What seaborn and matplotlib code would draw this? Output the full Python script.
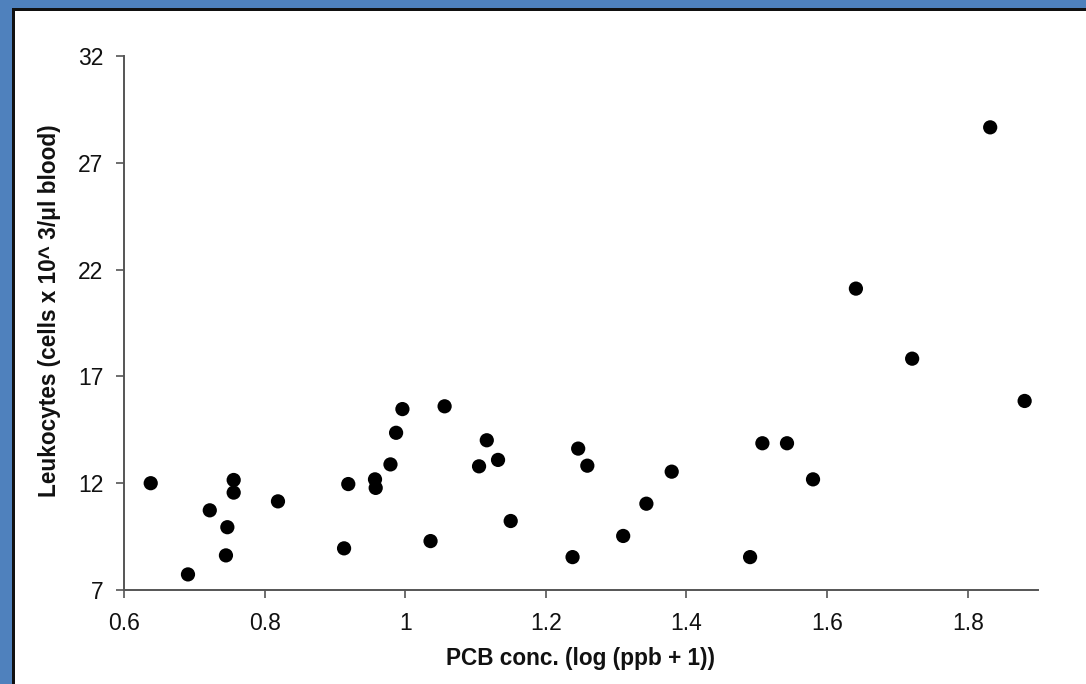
import matplotlib
matplotlib.use("Agg")
import matplotlib.pyplot as plt
from matplotlib.patches import Rectangle
import seaborn as sns
import pandas as pd

pcb_log = [0.638, 0.691, 0.722, 0.747, 0.745, 0.756, 0.756, 0.819, 0.913, 0.919,
           0.957, 0.958, 0.979, 0.987, 0.996, 1.036, 1.056, 1.105, 1.116, 1.132,
           1.150, 1.238, 1.246, 1.259, 1.310, 1.343, 1.379, 1.4905, 1.508, 1.543,
           1.580, 1.641, 1.721, 1.832, 1.881]
leukocytes = [12.00, 7.73, 10.73, 9.94, 8.62, 12.15, 11.56, 11.15, 8.95, 11.96,
              12.18, 11.78, 12.88, 14.36, 15.47, 9.29, 15.60, 12.79, 14.01, 13.09,
              10.23, 8.54, 13.62, 12.82, 9.53, 11.04, 12.54, 8.54, 13.87, 13.87,
              12.18, 21.11, 17.83, 28.66, 15.85]
x_ticks = [0.6, 0.8, 1.0, 1.2, 1.4, 1.6, 1.8]
x_tick_labels = ["0.6", "0.8", "1", "1.2", "1.4", "1.6", "1.8"]
y_ticks = [7, 12, 17, 22, 27, 32]
x_label = "PCB conc. (log (ppb + 1))"
y_label = "Leukocytes (cells x 10^ 3/\u03bcl blood)"

df = pd.DataFrame({"pcb": pcb_log, "leuk": leukocytes})

sns.set_theme(style="white")
plt.rcParams['font.family'] = ['Liberation Sans', 'DejaVu Sans']

W, H = 1086, 684
fig = plt.figure(figsize=(W / 100, H / 100), dpi=100)
fig.patch.set_facecolor("white")
# blue frame (left and top) with a dark inner line
fig.patches.append(Rectangle((0, 0), 12 / W, 1, transform=fig.transFigure, facecolor="#4F81BD", edgecolor="none", zorder=0))
fig.patches.append(Rectangle((0, 1 - 8 / H), 1, 8 / H, transform=fig.transFigure, facecolor="#4F81BD", edgecolor="none", zorder=0))
fig.patches.append(Rectangle((12 / W, 0), 2.5 / W, 1 - 8 / H, transform=fig.transFigure, facecolor="#111111", edgecolor="none", zorder=1))
fig.patches.append(Rectangle((12 / W, 1 - 10.5 / H), 1, 2.5 / H, transform=fig.transFigure, facecolor="#111111", edgecolor="none", zorder=1))

ax = fig.add_axes([124 / W, 1 - 590 / H, (1038 - 124) / W, (590 - 56) / H])
ax.set_facecolor("none")
sns.scatterplot(data=df, x="pcb", y="leuk", ax=ax, color="black", s=105, edgecolor="none", linewidth=0, zorder=3)

ax.set_xlim(0.6, 1.9)
ax.set_ylim(7, 32)
ax.set_xticks(x_ticks)
ax.set_xticklabels(x_tick_labels)
ax.set_yticks(y_ticks)
ax.set_yticklabels([str(v) for v in y_ticks])

for side in ["top", "right"]:
    ax.spines[side].set_visible(False)
for side in ["left", "bottom"]:
    ax.spines[side].set_color("#555555")
    ax.spines[side].set_linewidth(1.4)

ax.tick_params(axis="both", which="major", direction="out", length=6, width=1.2, color="#555555",
               labelsize=16.5, labelcolor="#111111")
ax.tick_params(axis="x", pad=10, bottom=True)
ax.tick_params(axis="y", pad=9, left=True)

ax.set_xlabel(x_label, fontsize=16.3, fontweight="bold", color="#111111")
ax.set_ylabel(y_label, fontsize=16.3, fontweight="bold", color="#111111")
ax.xaxis.set_label_coords((580 - 124) / (1038 - 124), -(647 - 590) / (590 - 56))
ax.yaxis.set_label_coords(-(124 - 61) / (1038 - 124), (590 - 311) / (590 - 56))

fig.savefig("out.png", dpi=100, facecolor="white")
